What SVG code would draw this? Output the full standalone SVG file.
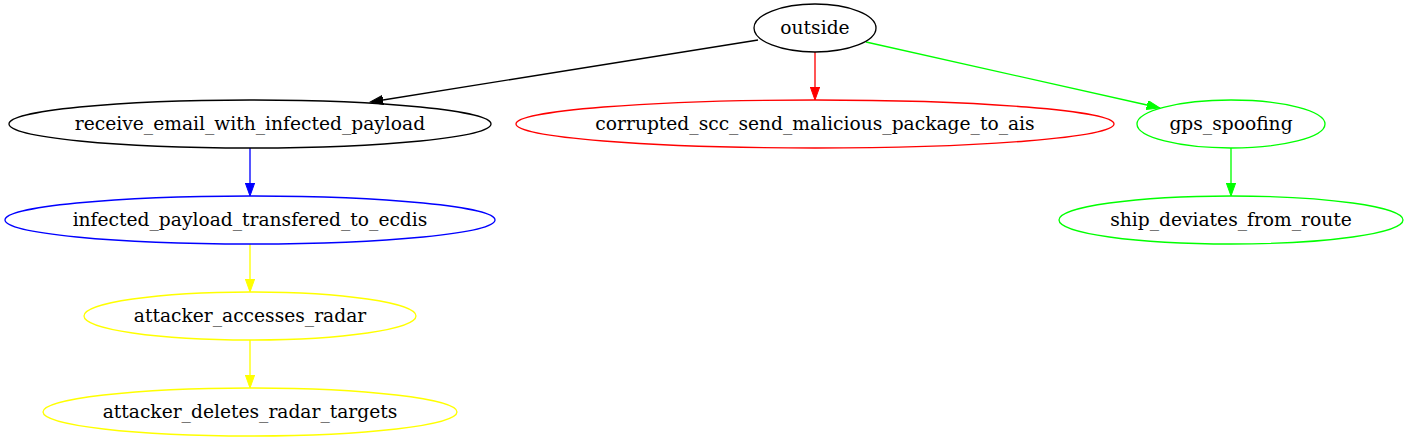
<svg xmlns="http://www.w3.org/2000/svg" width="1408" height="443" viewBox="0 0 1408 443">
<style>
.n ellipse{fill:none;stroke-width:1.33}
.n text{font-family:"DejaVu Serif",serif;font-size:18.67px;text-anchor:middle;fill:#000}
.e line{stroke-width:1.33;fill:none}
</style>
<defs>
<marker id="aK" markerUnits="userSpaceOnUse" markerWidth="14" markerHeight="10" refX="0" refY="4.67" orient="auto"><path d="M0,0L13,4.67L0,9.33z" fill="#000" stroke="#000"/></marker>
<marker id="aR" markerUnits="userSpaceOnUse" markerWidth="14" markerHeight="10" refX="0" refY="4.67" orient="auto"><path d="M0,0L13,4.67L0,9.33z" fill="#f00" stroke="#f00"/></marker>
<marker id="aG" markerUnits="userSpaceOnUse" markerWidth="14" markerHeight="10" refX="0" refY="4.67" orient="auto"><path d="M0,0L13,4.67L0,9.33z" fill="#0f0" stroke="#0f0"/></marker>
<marker id="aB" markerUnits="userSpaceOnUse" markerWidth="14" markerHeight="10" refX="0" refY="4.67" orient="auto"><path d="M0,0L13,4.67L0,9.33z" fill="#00f" stroke="#00f"/></marker>
<marker id="aY" markerUnits="userSpaceOnUse" markerWidth="14" markerHeight="10" refX="0" refY="4.67" orient="auto"><path d="M0,0L13,4.67L0,9.33z" fill="#ff0" stroke="#ff0"/></marker>
</defs>
<rect width="1408" height="443" fill="#fff"/>
<g id="edges" class="e">
<line x1="758" y1="40" x2="383" y2="100" stroke="#000" marker-end="url(#aK)"/>
<line x1="815" y1="52" x2="815" y2="87" stroke="#f00" marker-end="url(#aR)"/>
<line x1="866" y1="42" x2="1147" y2="105" stroke="#0f0" marker-end="url(#aG)"/>
<line x1="250" y1="148" x2="250" y2="183" stroke="#00f" marker-end="url(#aB)"/>
<line x1="1231" y1="148" x2="1231" y2="183" stroke="#0f0" marker-end="url(#aG)"/>
<line x1="250" y1="244" x2="250" y2="279" stroke="#ff0" marker-end="url(#aY)"/>
<line x1="250" y1="340" x2="250" y2="375" stroke="#ff0" marker-end="url(#aY)"/>
</g>
<g id="outside" class="n"><ellipse cx="815" cy="28" rx="61" ry="24" stroke="#000"/><text x="815" y="34">outside</text></g>
<g id="receive_email_with_infected_payload" class="n"><ellipse cx="250" cy="124" rx="241" ry="24" stroke="#000"/><text x="250" y="130">receive_email_with_infected_payload</text></g>
<g id="corrupted_scc_send_malicious_package_to_ais" class="n"><ellipse cx="815" cy="124" rx="299" ry="24" stroke="#f00"/><text x="815" y="130">corrupted_scc_send_malicious_package_to_ais</text></g>
<g id="gps_spoofing" class="n"><ellipse cx="1231" cy="124" rx="94" ry="24" stroke="#0f0"/><text x="1231" y="130">gps_spoofing</text></g>
<g id="infected_payload_transfered_to_ecdis" class="n"><ellipse cx="250" cy="220" rx="245" ry="24" stroke="#00f"/><text x="250" y="226">infected_payload_transfered_to_ecdis</text></g>
<g id="ship_deviates_from_route" class="n"><ellipse cx="1231" cy="220" rx="172" ry="24" stroke="#0f0"/><text x="1231" y="226">ship_deviates_from_route</text></g>
<g id="attacker_accesses_radar" class="n"><ellipse cx="250" cy="316" rx="166" ry="24" stroke="#ff0"/><text x="250" y="322">attacker_accesses_radar</text></g>
<g id="attacker_deletes_radar_targets" class="n"><ellipse cx="250" cy="412" rx="207" ry="24" stroke="#ff0"/><text x="250" y="418">attacker_deletes_radar_targets</text></g>
</svg>
